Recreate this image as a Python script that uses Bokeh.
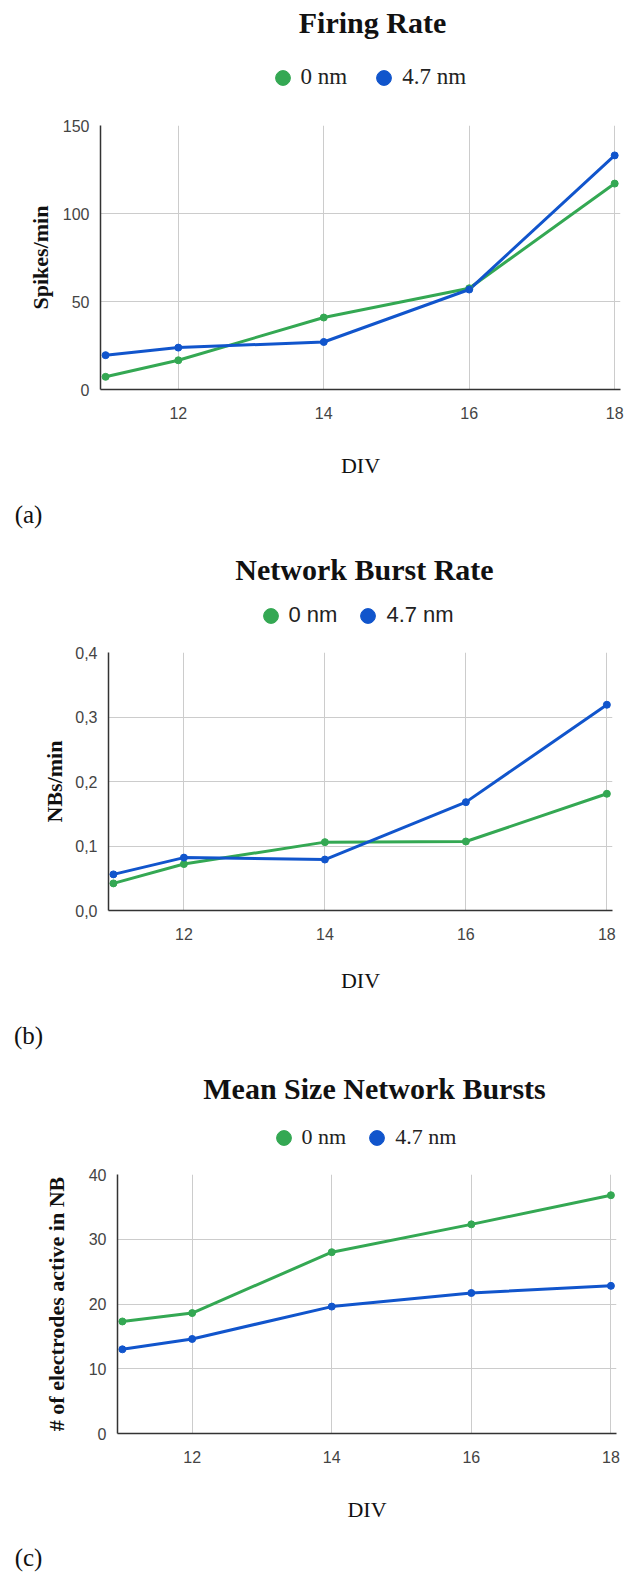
from bokeh.plotting import figure
from bokeh.models import Range1d, FixedTicker, Legend, LegendItem
from bokeh.layouts import column
from bokeh.embed import file_html
from bokeh.resources import INLINE
from bokeh.core.properties import value

# ---------------- data ----------------
div = [11, 12, 14, 16, 18]
x_ticks = [12, 14, 16, 18]
x_tick_labels = ["12", "14", "16", "18"]
series_names = ["0 nm", "4.7 nm"]

fr_0nm = [7.2, 16.6, 40.9, 57.5, 117]
fr_47nm = [19.5, 23.8, 27.0, 56.8, 133]
fr_ticks = [0, 50, 100, 150]
fr_tick_labels = ["0", "50", "100", "150"]

nbr_0nm = [0.042, 0.072, 0.106, 0.107, 0.181]
nbr_47nm = [0.056, 0.082, 0.079, 0.168, 0.319]
nbr_ticks = [0, 0.1, 0.2, 0.3, 0.4]
nbr_tick_labels = ["0,0", "0,1", "0,2", "0,3", "0,4"]

ms_0nm = [17.3, 18.6, 28.0, 32.3, 36.8]
ms_47nm = [13.0, 14.6, 19.6, 21.7, 22.8]
ms_ticks = [0, 10, 20, 30, 40]
ms_tick_labels = ["0", "10", "20", "30", "40"]

SERIF = "Liberation Serif"
SANS = "Liberation Sans"
GREEN = "#34a853"
BLUE = "#1155cc"
INK = "#111111"
W = 629


def strip(p):
    if "frame_align" in p.properties():
        p.frame_align = False
    p.outline_line_color = None
    p.background_fill_color = "white"
    p.border_fill_color = "white"


def header(height):
    """A text band: its frame is the whole canvas, in pixel units from top-left."""
    h = figure(width=W, height=height, output_backend="svg",
               toolbar_location=None, title=None,
               x_range=Range1d(0, W), y_range=Range1d(height, 0),
               x_axis_location=None, y_axis_location=None,
               min_border_left=0, min_border_right=0,
               min_border_top=0, min_border_bottom=0)
    strip(h)
    h.grid.visible = False
    return h


def add_title(h, x, y, text):
    h.text(x=[x], y=[y], text=[text], text_font=value(SERIF),
           text_font_size=value("30px"), text_font_style="bold",
           text_color=INK, text_align="center", text_baseline="middle")


def add_letter(h, x, y, text):
    h.text(x=[x], y=[y], text=[text], text_font=value(SERIF),
           text_font_size=value("25px"), text_color=INK,
           text_align="center", text_baseline="middle")


def add_legend(h, v0, v1, loc, font, size, standoff, spacing):
    # series markers used only as legend keys (hidden in the band itself)
    d0 = h.scatter(div, v0, size=7, color=GREEN, visible=False)
    d1 = h.scatter(div, v1, size=7, color=BLUE, visible=False)
    leg = Legend(items=[LegendItem(label=series_names[0], renderers=[d0]),
                        LegendItem(label=series_names[1], renderers=[d1])],
                 location=loc, orientation="horizontal",
                 glyph_width=37, glyph_height=37,
                 label_standoff=standoff, spacing=spacing,
                 padding=0, margin=0, border_line_alpha=0,
                 background_fill_alpha=0, inactive_fill_alpha=0,
                 label_text_font=font,
                 label_text_font_size=size, label_text_color="#222222")
    h.add_layout(leg)


def chart(ylabel, v0, v1, yticks, ytick_labels, ymax, *, height, left, right,
          top, bottom, ylab_standoff, xlab_standoff):
    p = figure(width=W, height=height, output_backend="svg",
               toolbar_location=None, title=None,
               x_range=Range1d(10.93, 18.08), y_range=Range1d(0, ymax),
               min_border_left=left, min_border_right=right,
               min_border_top=top, min_border_bottom=bottom)
    strip(p)
    p.line(div, v0, line_color=GREEN, line_width=3)
    p.line(div, v1, line_color=BLUE, line_width=3)
    p.scatter(div, v0, size=7, color=GREEN)
    p.scatter(div, v1, size=7, color=BLUE)

    p.xaxis.ticker = FixedTicker(ticks=x_ticks)
    p.xaxis.major_label_overrides = dict(zip(x_ticks, x_tick_labels))
    p.yaxis.ticker = FixedTicker(ticks=yticks)
    p.yaxis.major_label_overrides = dict(zip(yticks, ytick_labels))
    for ax in (p.xaxis, p.yaxis):
        ax.axis_line_color = "#333333"
        ax.axis_line_width = 1.5
        ax.major_tick_line_color = None
        ax.minor_tick_line_color = None
        ax.major_label_text_font = SANS
        ax.major_label_text_font_size = "16px"
        ax.major_label_text_color = "#444444"
    p.xaxis.major_label_standoff = 11
    p.yaxis.major_label_standoff = 5

    p.yaxis.axis_label = ylabel
    p.yaxis.axis_label_text_font = SERIF
    p.yaxis.axis_label_text_font_style = "bold"
    p.yaxis.axis_label_text_font_size = "22px"
    p.yaxis.axis_label_text_color = INK
    p.yaxis.axis_label_standoff = ylab_standoff

    p.xaxis.axis_label = "DIV"
    p.xaxis.axis_label_text_font = SERIF
    p.xaxis.axis_label_text_font_style = "normal"
    p.xaxis.axis_label_text_font_size = "22px"
    p.xaxis.axis_label_text_color = INK
    p.xaxis.axis_label_standoff = xlab_standoff

    p.xgrid.grid_line_color = "#cccccc"
    p.ygrid.grid_line_color = "#cccccc"
    return p


# ---- band 1: title + legend of (a)
h1 = header(113)
add_title(h1, 372, 22, "Firing Rate")
add_legend(h1, fr_0nm, fr_47nm, (263.5, 17.5), SERIF, "23px", -3, 18)

p1 = chart("Spikes/min", fr_0nm, fr_47nm, fr_ticks, fr_tick_labels, 150,
           height=376, left=100, right=9, top=12, bottom=100,
           ylab_standoff=7, xlab_standoff=31)

# ---- band 2: "(a)" + title + legend of (b)
h2 = header(151)
add_letter(h2, 28, 25, "(a)")
add_title(h2, 364, 80, "Network Burst Rate")
add_legend(h2, nbr_0nm, nbr_47nm, (251.5, 6.5), SANS, "22px", 0, 12)

p2 = chart("NBs/min", nbr_0nm, nbr_47nm, nbr_ticks, nbr_tick_labels, 0.4,
           height=360, left=108, right=17, top=12, bottom=90,
           ylab_standoff=5, xlab_standoff=25)

# ---- band 3: "(b)" + title + legend of (c)
h3 = header(162)
add_letter(h3, 28, 35, "(b)")
add_title(h3, 374, 88, "Mean Size Network Bursts")
add_legend(h3, ms_0nm, ms_47nm, (264.5, 6.5), SERIF, "22px", 0, 12)

p3 = chart("# of electrodes active in NB", ms_0nm, ms_47nm, ms_ticks,
           ms_tick_labels, 40,
           height=368, left=117, right=13, top=12, bottom=97,
           ylab_standoff=17, xlab_standoff=31)

# ---- band 4: "(c)"
h4 = header(44)
add_letter(h4, 28, 27, "(c)")

layout = column(h1, p1, h2, p2, h3, p3, h4)
open("out.html", "w").write(file_html(layout, INLINE))
